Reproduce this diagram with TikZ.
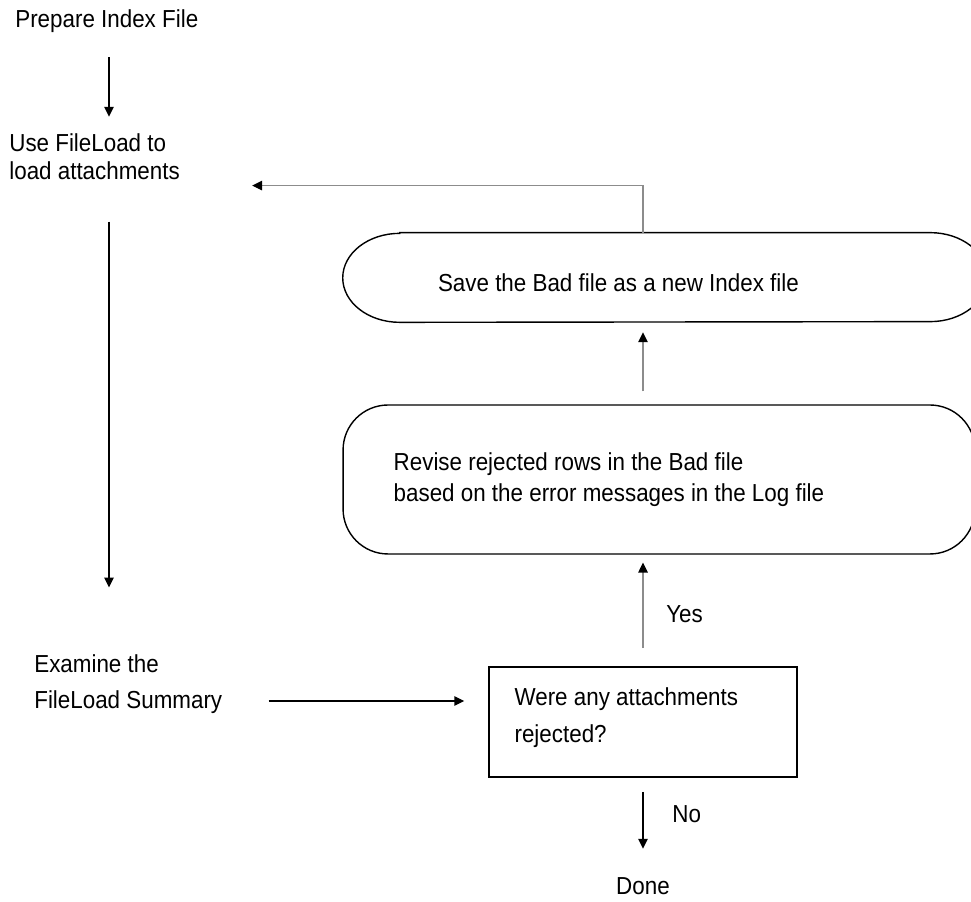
\documentclass[tikz,border=0pt]{standalone}
\usepackage{fontspec}
\setmainfont[FakeStretch=0.91]{Liberation Sans}
\usepackage{tikz}
\usetikzlibrary{arrows.meta,calc,positioning}
\definecolor{linegray}{RGB}{140,140,140}
\tikzstyle{txt} = [inner sep=0pt, align=left, font=\fontsize{14}{16}\selectfont]
\tikzstyle{block} = [rectangle, draw, line width=0.9pt, inner sep=0pt]
\tikzstyle{rblock} = [rectangle, draw, line width=0.8pt, rounded corners=0.9cm, inner sep=0pt]
\tikzstyle{pill} = [rectangle, inner sep=0pt]
\tikzstyle{line} = [draw, line width=0.7pt, -{Triangle[length=5.6pt,width=5.4pt]}]
\tikzstyle{gline} = [draw=linegray, line width=0.6pt, -{Triangle[length=5.6pt,width=5.4pt,color=black]}]
\begin{document}
\begin{tikzpicture}[x=0.02cm, y=0.02cm]
\useasboundingbox (0,0) rectangle (971,902);
\clip (0,0) rectangle (971,902);
% left column
\node [txt, anchor=base west] (prep) at (15,874) {Prepare Index File};
\node [txt, anchor=base west] (use) at (9,722) {Use FileLoad to\\load attachments};
\node [txt, anchor=base west, font=\fontsize{14}{20.7}\selectfont] (exam) at (34,193) {Examine the\\FileLoad Summary};
% right column
\node [pill, minimum width=12.88cm, minimum height=1.78cm] (save) at (665,624.5) {};
\draw [line width=0.8pt] ($(save.north west)+(57,0)$) -- ($(save.north east)+(-57,0)$)
  arc [start angle=90, end angle=-90, x radius=1.14cm, y radius=0.89cm]
  -- ($(save.south west)+(57,0)$)
  arc [start angle=270, end angle=90, x radius=1.14cm, y radius=0.89cm] -- cycle;
\node [txt, right=1.9cm of save.west, yshift=-0.1cm] (savetxt) {Save the Bad file as a new Index file};
\node [rblock, minimum width=12.64cm, minimum height=2.98cm] (revise) at (659,422.5) {};
\node [txt, right=1.02cm of revise.west, font=\fontsize{14}{18}\selectfont] (revisetxt) {Revise rejected rows in the Bad file\\based on the error messages in the Log file};
\node [block, minimum width=6.16cm, minimum height=2.2cm] (were) at (643,180) {};
\node [txt, right=0.52cm of were.west, yshift=0.08cm, font=\fontsize{14}{21}\selectfont] (weretxt) {Were any attachments\\rejected?};
\node [txt, anchor=base west] (yes) at (666,279) {Yes};
\node [txt, anchor=base west] (no) at (672,79) {No};
\node [txt, anchor=base] (done) at (643,7) {Done};
% connectors
\coordinate (lane) at (109,0);
\path [line] ($(prep.south -| lane)+(0,-24)$) -- ($(use.north -| lane)+(0,17)$);
\path [line] ($(use.south -| lane)+(0,-41)$) -- ($(exam.north -| lane)+(0,67)$);
\path [line] ($(exam.east |- were.west)+(46,21)$) -- ($(were.west)+(-24,21)$);
\path [gline] ($(were.north)+(0,18)$) -- ($(revise.south -| were.north)+(0,-8)$);
\path [gline] ($(revise.north -| were.north)+(0,13)$) -- ($(save.south -| were.north)+(0,-10)$);
\path [gline] (save.north -| were.north) |- ($(use.south east)+(72,-5)$);
\path [line] ($(were.south)+(0,-14)$) -- ($(done.north)+(0,29)$);
\end{tikzpicture}
\end{document}
